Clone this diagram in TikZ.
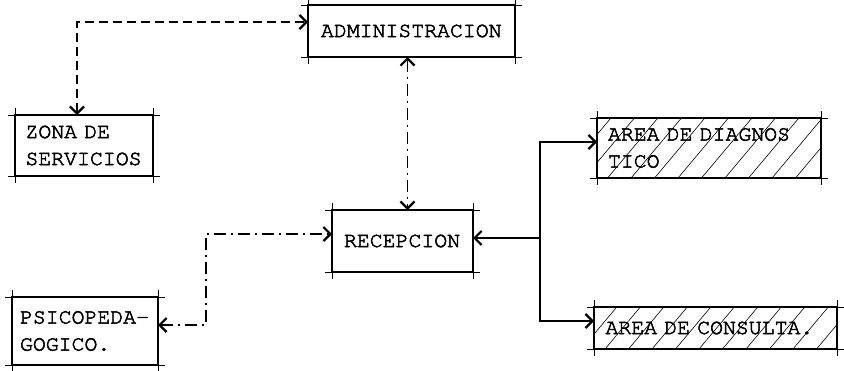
\documentclass[tikz,border=0pt]{standalone}
\usepackage{fontspec}
\newfontfamily\typew{TeX Gyre Cursor}[FakeBold=2.5]
\usetikzlibrary{arrows.meta,patterns.meta}
\tikzset{
  box/.style={draw, line width=2.4pt, rectangle, outer sep=0pt, anchor=north west,
    align=left, inner ysep=0pt, font=\typew\fontsize{21.5}{27}\selectfont},
  hatched/.style={pattern={Lines[angle=50,distance=18pt,line width=0.6pt]}},
  tick/.style={line width=0.8pt},
  tip/.tip={Straight Barb[length=7pt,width=14pt,line width=2.2pt]},
  conn/.style={line width=1.5pt, tip-tip},
  conn1/.style={line width=1.5pt, -tip},
  dsh/.style={dash pattern=on 9pt off 5pt},
  dd/.style={dash pattern=on 12pt off 5pt on 2pt off 5pt}
}
\newcommand\boxticks[1]{%
  \draw[tick] ([xshift=-7pt]#1.north west) -- ([xshift=7pt]#1.north east);
  \draw[tick] ([xshift=-7pt]#1.south west) -- ([xshift=7pt]#1.south east);
  \draw[tick] ([yshift=7pt]#1.north west) -- ([yshift=-7pt]#1.south west);
  \draw[tick] ([yshift=7pt]#1.north east) -- ([yshift=-7pt]#1.south east);}
\begin{document}
\begin{tikzpicture}[x=1pt,y=-1pt]
\useasboundingbox[fill=white] (0,0) rectangle (844,370);
% boxes
\node[box, minimum width=207pt, minimum height=52pt, inner xsep=13pt, text width=181pt] (adm) at (308,5) {ADMINISTRACION};
\node[box, minimum width=138pt, minimum height=61pt, inner xsep=10.5pt, text width=117pt] (zona) at (15,115) {ZONA DE\\SERVICIOS};
\node[box, minimum width=141pt, minimum height=62pt, inner xsep=12pt, text width=117pt] (rec) at (332,210) {RECEPCION};
\node[box, hatched, minimum width=224pt, minimum height=60pt, inner xsep=11pt, text width=202pt] (diag) at (597,118) {AREA DE DIAGNOS\\TICO};
\node[box, hatched, minimum width=243pt, minimum height=42pt, inner xsep=11.5pt, text width=220pt] (cons) at (594,307) {AREA DE CONSULTA.};
\node[box, minimum width=146pt, minimum height=68pt, inner xsep=8pt, text width=130pt] (psico) at (12,297) {PSICOPEDA-\\GOGICO.};
\boxticks{adm}\boxticks{zona}\boxticks{rec}\boxticks{diag}\boxticks{cons}\boxticks{psico}
% connectors
\draw[conn, dsh] ([xshift=-7pt]zona.north) |- ([yshift=9pt]adm.west);
\draw[conn, dd] ([xshift=-4pt]adm.south) -- ([xshift=-4pt]adm.south |- rec.north);
\coordinate (pj) at (206,234);
\draw[conn, dd] ([yshift=6pt]psico.east) -| (pj) -- (pj -| rec.west);
\coordinate (bus) at (540,238);
\draw[conn1] (bus) -- (bus -| rec.east);
\draw[conn] ([yshift=6pt]diag.west) -| (bus) |- ([yshift=7pt]cons.west);
\end{tikzpicture}
\end{document}
